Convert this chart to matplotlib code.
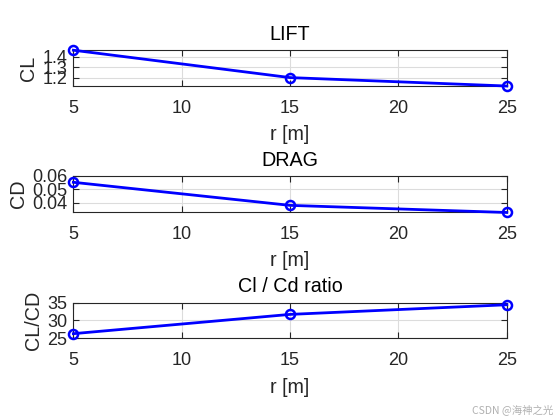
import matplotlib

matplotlib.use("Agg")

import matplotlib.pyplot as plt

# valores
raio = [5, 15, 25]
cl = [1.46, 1.203, 1.124]
cd = [0.0553, 0.0381, 0.0328]
razao = [26.3, 31.7, 34.4]
xticks = [5, 10, 15, 20, 25]

paineis = [
    ("LIFT", "CL", cl, [1.2, 1.3, 1.4], (1.124, 1.459)),
    ("DRAG", "CD", cd, [0.04, 0.05, 0.06], (0.0334, 0.0596)),
    ("Cl / Cd ratio", "CL/CD", razao, [25, 30, 35], (25, 35)),
]

plt.rcParams["font.family"] = ["Liberation Sans", "DejaVu Sans"]

fig = plt.figure(figsize=(5.6, 4.2), dpi=100)
escuro = "#262626"
fundos = [0.7952, 0.496, 0.1945]

for (titulo, ylabel, valores, yticks, ylim), base in zip(paineis, fundos):
    ax = fig.add_axes([0.131, base, 0.774, 0.085])
    ax.plot(raio, valores, color="#0000ff", linewidth=2, marker="o",
            markersize=6.5, markerfacecolor="none", markeredgewidth=1.8,
            clip_on=False, zorder=5)
    ax.set_xlim(5, 25)
    ax.set_ylim(*ylim)
    ax.set_xticks(xticks)
    ax.set_yticks(yticks)
    ax.tick_params(direction="in", top=True, right=True, length=4,
                   labelsize=13, colors=escuro)
    ax.tick_params(axis="x", pad=10)
    ax.tick_params(axis="y", pad=4.5)
    ax.grid(True, color="#dcdcdc", linewidth=0.8)
    for lado in ax.spines.values():
        lado.set_color(escuro)
        lado.set_linewidth(0.8)
    ax.set_title(titulo, fontsize=14.2, color="black", pad=7.5)
    ax.set_xlabel("r [m]", fontsize=14.2, color=escuro, labelpad=6)
    ax.set_ylabel(ylabel, fontsize=14.2, color=escuro, labelpad=3)

fig.text(0.988, 0.012, "CSDN @海神之光", fontsize=7.5, color="#b0b0b0",
         ha="right", va="bottom",
         family=["Noto Sans CJK SC", "DejaVu Sans"])

fig.savefig("out.png", dpi=100)
